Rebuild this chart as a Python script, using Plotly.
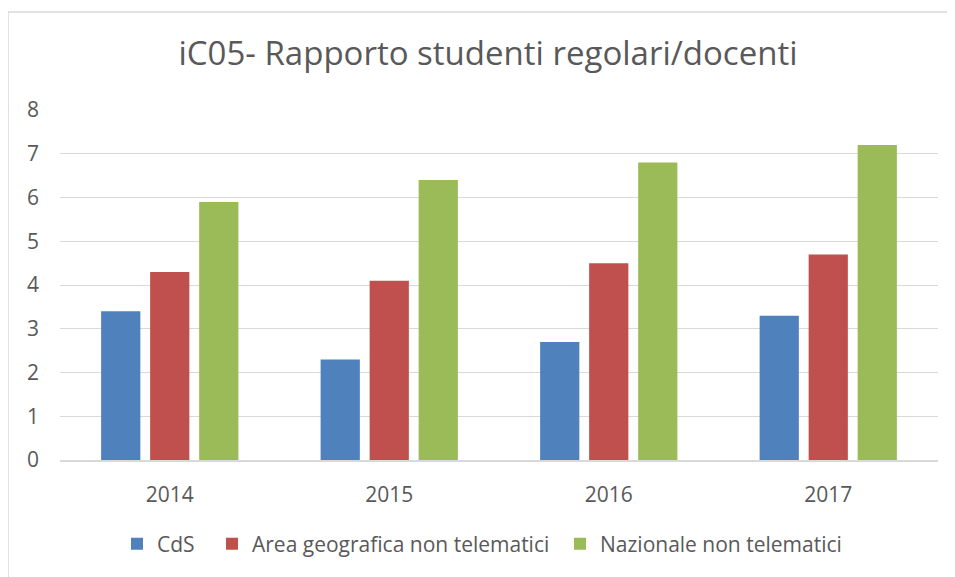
import plotly.graph_objects as go

years = ["2014", "2015", "2016", "2017"]
cds = [3.4, 2.3, 2.7, 3.3]
area = [4.3, 4.1, 4.5, 4.7]
naz = [5.9, 6.4, 6.8, 7.2]
series_names = ["CdS", "Area geografica non telematici", "Nazionale non telematici"]
colors = ["#4F81BD", "#C0504D", "#9BBB59"]

# page body has an 8px default margin; compensate
OFF = 8
W, H = 955 - OFF, 577 - OFF
ml, mr, mt, mb = 60 - OFF, 17, 110 - OFF, 113
pw, ph = W - ml - mr, H - mt - mb

def px_x(p):
    return (p - OFF - ml) / pw

def px_y(p):
    return (H - mb - (p - OFF)) / ph

legend_ids = ["legend", "legend2", "legend3"]
legend_text_x = [157, 252, 600]

fig = go.Figure()
for name, vals, col, lid in zip(series_names, [cds, area, naz], colors, legend_ids):
    fig.add_trace(go.Bar(x=years, y=vals, name=name, legend=lid,
                         marker=dict(color=col, line=dict(width=0))))

gridc = "#D9D9D9"
font = "Open Sans"
txt = "#595959"

leg_layout = {}
for lid, tx in zip(legend_ids, legend_text_x):
    leg_layout[lid] = dict(orientation="h", x=px_x(tx - 40), xanchor="left",
                           y=px_y(549), yanchor="middle", borderwidth=0,
                           bgcolor="rgba(0,0,0,0)",
                           font=dict(family=font, size=21, color=txt))

fig.update_layout(
    width=W, height=H,
    margin=dict(l=ml, r=mr, t=mt, b=mb),
    paper_bgcolor="white", plot_bgcolor="white",
    barmode="group", bargap=0.33, bargroupgap=0.2,
    title=dict(text="iC05- Rapporto studenti regolari/docenti", x=(488 - OFF) / W, xanchor="center",
               y=1 - (53 - OFF) / H, yanchor="middle", yref="container",
               font=dict(family=font, size=33, color=txt)),
    font=dict(family=font, size=21, color=txt),
    xaxis=dict(showgrid=False, showline=True, linecolor=gridc, linewidth=1.5, ticks="",
               ticklabelstandoff=15, tickfont=dict(size=21, color=txt)),
    yaxis=dict(range=[0, 8], dtick=1, showgrid=True, gridcolor=gridc, gridwidth=1.3,
               zeroline=False, showline=False, ticks="", ticklabelstandoff=20,
               tickfont=dict(size=21, color=txt)),
    showlegend=True,
    shapes=[
        dict(type="line", xref="paper", yref="paper", x0=px_x(8), x1=px_x(8), y0=-2, y1=px_y(11),
             line=dict(color=gridc, width=1.5)),
        dict(type="line", xref="paper", yref="paper", x0=px_x(8), x1=2, y0=px_y(11), y1=px_y(11),
             line=dict(color=gridc, width=1.5)),
    ],
    **leg_layout,
)
fig.write_html("out.html")
